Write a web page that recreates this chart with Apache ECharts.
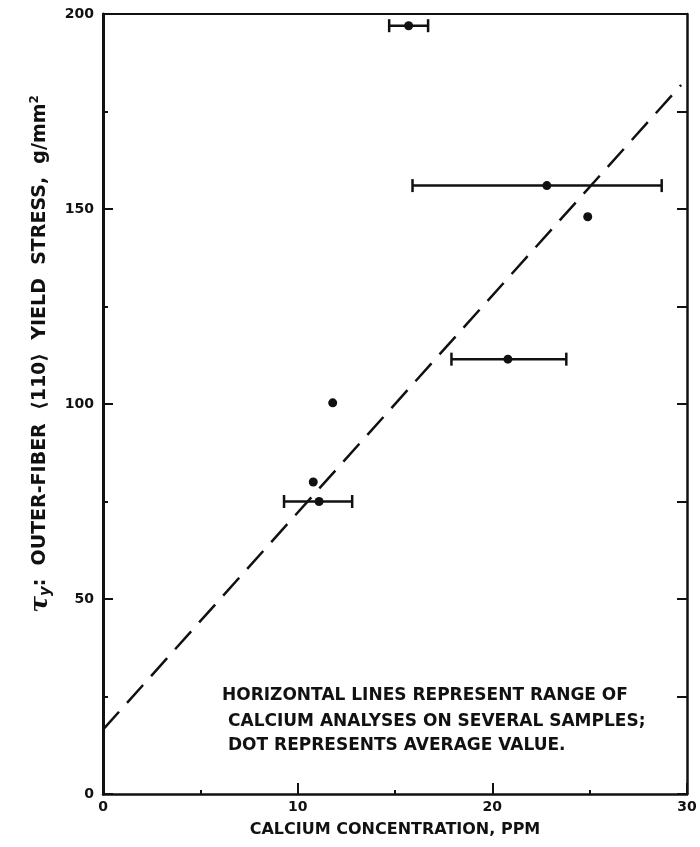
<!doctype html>
<html>
<head>
<meta charset="UTF-8">
<title>Yield stress vs calcium</title>
<script src="https://cdn.jsdelivr.net/npm/echarts@6/dist/echarts.min.js"></script>
<style>
  html, body { margin: 0; padding: 0; background: #fff; }
  #chart { width: 700px; height: 847px; }
</style>
</head>
<body>
<div id="chart"></div>
<script>
// points with a range bar: average calcium, lowest, highest, stress
var barCalcium = [15.7, 22.8, 20.8, 11.1];
var barLow = [14.7, 15.9, 17.9, 9.3];
var barHigh = [16.7, 28.7, 23.8, 12.8];
var barStress = [197, 156, 111.5, 75];
// single dots, no range
var dotCalcium = [24.9, 11.8, 10.8];
var dotStress = [148, 100.3, 80];
// dashed fit line ends
var fitCalcium = [0, 29.7];
var fitStress = [16.5, 181.8];
var xTicks = [0, 10, 20, 30];
var yTicks = [0, 50, 100, 150, 200];

var ink = '#111';
var font = 'DejaVu Sans';

var rangeData = barCalcium.map(function (c, i) { return [c, barLow[i], barHigh[i], barStress[i]]; });
var dotData = barCalcium.map(function (c, i) { return [c, barStress[i]]; })
  .concat(dotCalcium.map(function (c, i) { return [c, dotStress[i]]; }));
var fitData = fitCalcium.map(function (c, i) { return [c, fitStress[i]]; });

function rangeBar(params, api) {
  var y = api.value(3);
  var a = api.coord([api.value(1), y]);
  var b = api.coord([api.value(2), y]);
  var st = { stroke: ink, lineWidth: 2.5 };
  return {
    type: 'group',
    children: [
      { type: 'line', shape: { x1: a[0], y1: a[1], x2: b[0], y2: b[1] }, style: st },
      { type: 'line', shape: { x1: a[0], y1: a[1] - 6.5, x2: a[0], y2: a[1] + 6.5 }, style: st },
      { type: 'line', shape: { x1: b[0], y1: b[1] - 6.5, x2: b[0], y2: b[1] + 6.5 }, style: st }
    ]
  };
}

var noteFont = 'bold 17px "DejaVu Sans"';

var chart = echarts.init(document.getElementById('chart'));
chart.setOption({
  animation: false,
  grid: { left: 103, right: 13, top: 14, bottom: 53 },
  xAxis: [{
    type: 'value', min: 0, max: 30, interval: 10,
    axisLine: { lineStyle: { color: ink, width: 2.5 } },
    axisTick: { inside: true, length: 11, lineStyle: { color: ink, width: 2 } },
    minorTick: { show: true, splitNumber: 2, length: 4, lineStyle: { color: ink, width: 2 } },
    splitLine: { show: false },
    axisLabel: {
      color: ink, fontFamily: font, fontWeight: 'bold', fontSize: 14, margin: 6,
      formatter: function (v) { return xTicks.indexOf(v) >= 0 ? String(v) : ''; }
    },
    name: 'CALCIUM CONCENTRATION, PPM', nameLocation: 'middle', nameGap: 28,
    nameTextStyle: { color: ink, fontFamily: font, fontWeight: 'bold', fontSize: 16 }
  }, {
    type: 'value', position: 'top', min: 0, max: 30,
    axisLine: { show: true, onZero: false, lineStyle: { color: ink, width: 2 } },
    axisTick: { show: false }, axisLabel: { show: false }, splitLine: { show: false }
  }],
  yAxis: [{
    type: 'value', min: 0, max: 200, interval: 50,
    axisLine: { show: true, lineStyle: { color: ink, width: 3 } },
    axisTick: { inside: true, length: 10, lineStyle: { color: ink, width: 2 } },
    minorTick: { show: true, splitNumber: 2, length: 5, lineStyle: { color: ink, width: 2 } },
    splitLine: { show: false },
    axisLabel: {
      color: ink, fontFamily: font, fontWeight: 'bold', fontSize: 14, margin: 9,
      formatter: function (v) { return yTicks.indexOf(v) >= 0 ? String(v) : ''; }
    },
    name: '{t|τ}{s|y}{n|:  OUTER-FIBER  ⟨110⟩  YIELD  STRESS,  g/mm}{p|2}',
    nameLocation: 'middle', nameGap: 38, nameRotate: 90,
    nameTextStyle: {
      color: ink, fontFamily: font, fontWeight: 'bold', fontSize: 19,
      padding: [0, 0, 0, 100],
      rich: {
        t: { fontFamily: 'DejaVu Serif', fontStyle: 'italic', fontSize: 25, color: ink },
        s: { fontFamily: font, fontStyle: 'italic', fontWeight: 'bold', fontSize: 15, color: ink, padding: [12, 0, 0, 0] },
        n: { fontFamily: font, fontWeight: 'bold', fontSize: 19, color: ink },
        p: { fontFamily: font, fontWeight: 'bold', fontSize: 12, color: ink, padding: [0, 0, 12, 0] }
      }
    }
  }, {
    type: 'value', position: 'right', min: 0, max: 200, interval: 25,
    axisLine: { show: true, onZero: false, lineStyle: { color: ink, width: 2.5 } },
    axisTick: { inside: true, length: 10, lineStyle: { color: ink, width: 2 } },
    axisLabel: { show: false }, splitLine: { show: false }
  }],
  graphic: [
    { type: 'text', left: 222, top: 687, style: { text: 'HORIZONTAL LINES REPRESENT RANGE OF', font: noteFont, fill: ink } },
    { type: 'text', left: 228, top: 713, style: { text: 'CALCIUM ANALYSES ON SEVERAL SAMPLES;', font: noteFont, fill: ink } },
    { type: 'text', left: 228, top: 737, style: { text: 'DOT REPRESENTS AVERAGE VALUE.', font: noteFont, fill: ink } }
  ],
  series: [{
    type: 'line', data: fitData, symbol: 'none', silent: true,
    lineStyle: { color: ink, width: 2.5, type: [24, 12] }
  }, {
    type: 'custom', renderItem: rangeBar, data: rangeData,
    encode: { x: [0, 1, 2], y: 3 }
  }, {
    type: 'scatter', data: dotData, symbol: 'circle', symbolSize: 9,
    itemStyle: { color: ink, opacity: 1 }
  }]
});
</script>
</body>
</html>
